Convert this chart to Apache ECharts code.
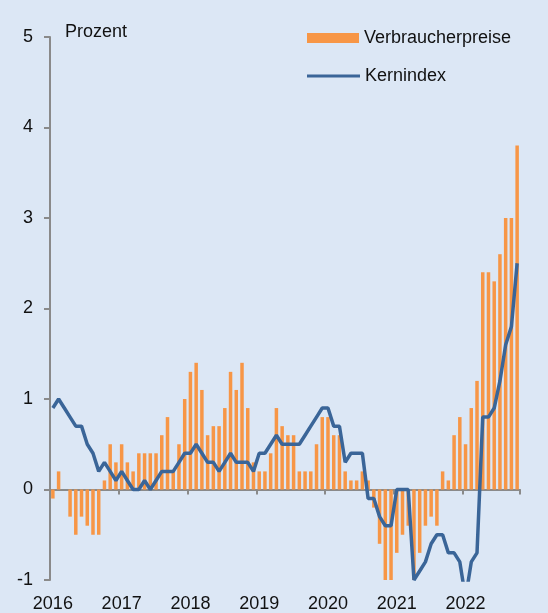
<!DOCTYPE html>
<html>
<head>
<meta charset="utf-8">
<script src="https://cdn.jsdelivr.net/npm/echarts@6/dist/echarts.min.js"></script>
<style>
  html, body { margin: 0; padding: 0; background: #dce7f5; }
  #chart { width: 548px; height: 613px; }
</style>
</head>
<body>
<div id="chart"></div>
<script>
// Jahre der x-Achse, jeweils Januar bis Dezember (2022 nur bis Oktober)
var years = ['2016', '2017', '2018', '2019', '2020', '2021', '2022'];
var lastYearMonths = 10;

// Verbraucherpreise, Veränderung gegenüber Vorjahr in Prozent
var cpi2016 = [-0.1, 0.2, 0.0, -0.3, -0.5, -0.3, -0.4, -0.5, -0.5, 0.1, 0.5, 0.3];
var cpi2017 = [0.5, 0.3, 0.2, 0.4, 0.4, 0.4, 0.4, 0.6, 0.8, 0.2, 0.5, 1.0];
var cpi2018 = [1.3, 1.4, 1.1, 0.6, 0.7, 0.7, 0.9, 1.3, 1.1, 1.4, 0.9, 0.3];
var cpi2019 = [0.2, 0.2, 0.4, 0.9, 0.7, 0.6, 0.6, 0.2, 0.2, 0.2, 0.5, 0.8];
var cpi2020 = [0.8, 0.6, 0.6, 0.2, 0.1, 0.1, 0.2, 0.1, -0.2, -0.6, -1.0, -1.0];
var cpi2021 = [-0.7, -0.5, -0.4, -1.0, -0.7, -0.4, -0.3, -0.4, 0.2, 0.1, 0.6, 0.8];
var cpi2022 = [0.5, 0.9, 1.2, 2.4, 2.4, 2.3, 2.6, 3.0, 3.0, 3.8];

// Kernindex
var core2016 = [0.9, 1.0, 0.9, 0.8, 0.7, 0.7, 0.5, 0.4, 0.2, 0.3, 0.2, 0.1];
var core2017 = [0.2, 0.1, 0.0, 0.0, 0.1, 0.0, 0.1, 0.2, 0.2, 0.2, 0.3, 0.4];
var core2018 = [0.4, 0.5, 0.4, 0.3, 0.3, 0.2, 0.3, 0.4, 0.3, 0.3, 0.3, 0.2];
var core2019 = [0.4, 0.4, 0.5, 0.6, 0.5, 0.5, 0.5, 0.5, 0.6, 0.7, 0.8, 0.9];
var core2020 = [0.9, 0.7, 0.7, 0.3, 0.4, 0.4, 0.4, -0.1, -0.1, -0.3, -0.4, -0.4];
var core2021 = [0.0, 0.0, 0.0, -1.0, -0.9, -0.8, -0.6, -0.5, -0.5, -0.7, -0.7, -0.8];
var core2022 = [-1.2, -0.8, -0.7, 0.8, 0.8, 0.9, 1.2, 1.6, 1.8, 2.5];

var yTicks = [-1, 0, 1, 2, 3, 4, 5];

var months = [];
for (var y = 0; y < years.length; y++) {
    var n = (y === years.length - 1) ? lastYearMonths : 12;
    for (var m = 1; m <= n; m++) {
        months.push(years[y] + '-' + (m < 10 ? '0' + m : m));
    }
}
var cpi = [].concat(cpi2016, cpi2017, cpi2018, cpi2019, cpi2020, cpi2021, cpi2022);
var core = [].concat(core2016, core2017, core2018, core2019, core2020, core2021, core2022);

var font = 'Liberation Sans, Arial, sans-serif';
var axisGrey = '#8a8a8a';
var orange = '#f79646';
var blue = '#3a6598';

var chart = echarts.init(document.getElementById('chart'));
chart.setOption({
    backgroundColor: '#dce7f5',
    animation: false,
    textStyle: { fontFamily: font },
    grid: { left: 50, right: 28, top: 37, bottom: 30 },
    graphic: [{
        type: 'text', left: 65, top: 23,
        style: { text: 'Prozent', font: '18px ' + font, fill: '#111' }
    }],
    legend: [{
        data: ['Verbraucherpreise'],
        left: 307, top: 29, padding: 0,
        itemWidth: 52, itemHeight: 10, icon: 'rect',
        textStyle: { fontSize: 18, color: '#111', fontFamily: font }
    }, {
        data: ['Kernindex'],
        left: 307, top: 67, padding: 0,
        itemWidth: 53, itemHeight: 3, icon: 'rect',
        textStyle: { fontSize: 18, color: '#111', fontFamily: font }
    }],
    xAxis: [{
        // Jahreszahlen unten
        type: 'category', data: months, position: 'bottom',
        boundaryGap: true,
        axisLine: { show: false, onZero: false },
        axisTick: { show: false },
        axisLabel: {
            interval: function (idx) { return idx % 12 === 0; },
            formatter: function (v) { return v.substring(0, 4); },
            fontSize: 18, color: '#111', margin: 15
        },
        splitLine: { show: false }
    }, {
        // Nulllinie mit Jahresstrichen
        type: 'category', data: months, position: 'top',
        boundaryGap: true,
        axisLine: { show: true, onZero: true, lineStyle: { color: axisGrey, width: 2 } },
        axisTick: {
            show: true, inside: true, length: 5,
            interval: function (idx) { return idx % 12 === 0; },
            lineStyle: { color: axisGrey, width: 2 }
        },
        axisLabel: { show: false },
        splitLine: { show: false }
    }],
    yAxis: {
        type: 'value', min: yTicks[0], max: yTicks[yTicks.length - 1], interval: 1,
        axisLine: { show: true, lineStyle: { color: axisGrey, width: 2 } },
        axisTick: { show: true, length: 6, lineStyle: { color: axisGrey, width: 2 } },
        axisLabel: { fontSize: 18, color: '#111', margin: 17 },
        splitLine: { show: false }
    },
    series: [{
        name: 'Verbraucherpreise', type: 'bar', xAxisIndex: 0,
        data: cpi, barWidth: 3.5,
        itemStyle: { color: orange }
    }, {
        name: 'Kernindex', type: 'line', xAxisIndex: 0,
        data: core, symbol: 'none', clip: true,
        lineStyle: { color: blue, width: 3.5 },
        itemStyle: { color: blue },
        z: 3
    }]
});
</script>
</body>
</html>
